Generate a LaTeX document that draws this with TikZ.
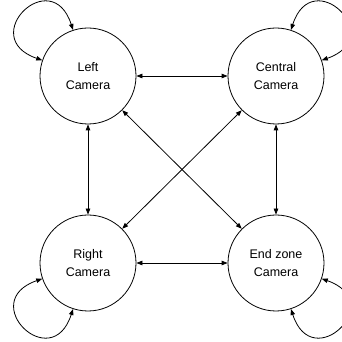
\documentclass[tikz,border=0pt]{standalone}
\usepackage{fontspec}
\setmainfont{Liberation Sans}
\usetikzlibrary{arrows.meta}
\begin{document}
\begin{tikzpicture}[x=1pt,y=1pt,
  state/.style={circle,draw,line width=0.8pt,minimum size=96pt,inner sep=0pt,
    align=center,font=\fontsize{12.5}{18}\selectfont},
  conn/.style={line width=0.8pt,{Triangle[length=6pt,width=4.5pt]}-{Triangle[length=6pt,width=4.5pt]}}]
\useasboundingbox (0,0) rectangle (342,342);
\node[state] (L) at (88,266) {Left\\Camera};
\node[state] (C) at (276,266) {Central\\Camera};
\node[state] (R) at (88,79) {Right\\Camera};
\node[state] (E) at (276,79) {End zone\\Camera};
\draw[conn] (L) -- (C);
\draw[conn] (R) -- (E);
\draw[conn] (L) -- (R);
\draw[conn] (C) -- (E);
\draw[conn] (L.-45) -- (E.135);
\draw[conn] (C.-135) -- (R.45);
\draw[conn] (L.108) .. controls +(108:70) and +(161:70) .. (L.161);
\draw[conn] (C.72) .. controls +(72:70) and +(19:70) .. (C.19);
\draw[conn] (R.-161) .. controls +(-161:70) and +(-108:70) .. (R.-108);
\draw[conn] (E.-19) .. controls +(-19:70) and +(-72:70) .. (E.-72);
\end{tikzpicture}
\end{document}
